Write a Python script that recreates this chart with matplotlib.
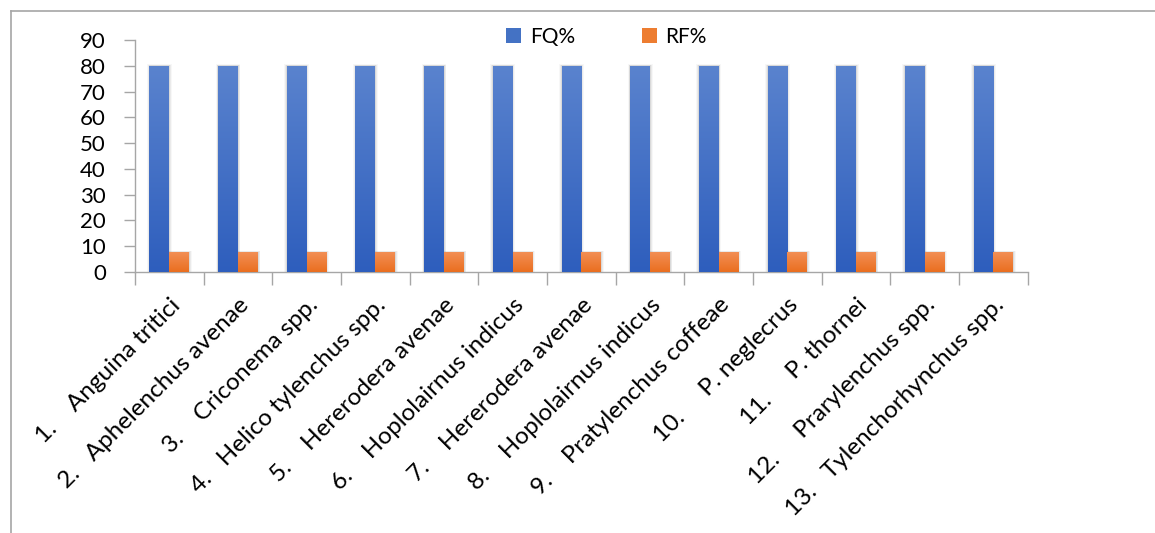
"""Frequency (FQ%) and relative frequency (RF%) of nematode genera."""

import matplotlib.pyplot as plt
import numpy as np
from matplotlib.colors import LinearSegmentedColormap
from matplotlib.lines import Line2D
from matplotlib.patches import Patch, Rectangle

species = [
    "1.    Anguina tritici",
    "2.   Aphelenchus avenae",
    "3.    Criconema spp.",
    "4.   Helico tylenchus spp.",
    "5.    Hererodera avenae",
    "6.    Hoplolairnus indicus",
    "7.    Hererodera avenae",
    "8.    Hoplolairnus indicus",
    "9.    Pratylenchus coffeae",
    "10.     P. neglecrus",
    "11.     P. thornei",
    "12.     Prarylenchus spp.",
    "13.   Tylenchorhynchus spp.",
]
fq = [80, 80, 80, 80, 80, 80, 80, 80, 80, 80, 80, 80, 80]
rf = [7.69, 7.69, 7.69, 7.69, 7.69, 7.69, 7.69, 7.69, 7.69, 7.69, 7.69, 7.69, 7.69]

plt.rcParams["font.family"] = ["Lato", "DejaVu Sans"]

blue_cmap = LinearSegmentedColormap.from_list("fq", ["#2E5EBD", "#5A83CE"])
orange_cmap = LinearSegmentedColormap.from_list("rf", ["#EA6E1F", "#F28F55"])
grad = np.linspace(0, 1, 256).reshape(-1, 1)


def gradient_bars(ax, xs, heights, width, cmap):
    bars = ax.bar(xs, heights, width=width, align="edge", color="none", zorder=3)
    for bar in bars:
        x0, y0 = bar.get_x(), bar.get_y()
        w, h = bar.get_width(), bar.get_height()
        # soft drop shadow around the bar
        for k, a in zip([0.10, 0.065, 0.03], [0.03, 0.05, 0.07]):
            ax.add_patch(Rectangle((x0 - k * 0.35, y0), w + k * 0.7, h + k * 6,
                                   facecolor="black", alpha=a, lw=0, zorder=2))
        im = ax.imshow(grad, cmap=cmap, aspect="auto", origin="lower",
                       extent=(x0, x0 + w, y0, y0 + h), zorder=3)
        im.set_clip_path(bar)
    return bars


fig = plt.figure(figsize=(11.55, 5.33), dpi=100)
ax = fig.add_axes([0.1169, 0.4897, 0.773, 0.4353])

x = np.arange(len(species))
bar_w = 0.29
gradient_bars(ax, x - bar_w, fq, bar_w, blue_cmap)
gradient_bars(ax, x, rf, bar_w, orange_cmap)

ax.set_xlim(-0.5, len(species) - 0.5)
ax.set_ylim(0, 90)
ax.set_yticks(range(0, 91, 10))
ax.tick_params(axis="y", labelsize=16, length=8, width=1, color="#A6A6A6", pad=13)

ax.set_xticks(x)
ax.set_xticklabels(species, rotation=45, ha="right", rotation_mode="anchor", fontsize=17.5)
ax.tick_params(axis="x", length=0, pad=16)
ax.set_xticks(np.arange(-0.5, len(species)), minor=True)
ax.tick_params(axis="x", which="minor", length=9, width=1, color="#A6A6A6")

for side in ["top", "right"]:
    ax.spines[side].set_visible(False)
for side in ["left", "bottom"]:
    ax.spines[side].set_color("#A6A6A6")
    ax.spines[side].set_linewidth(1)

handles = [Patch(facecolor="#4472C4"), Patch(facecolor="#ED7D31")]
fig.legend(handles, ["FQ%", "RF%"], loc="center", bbox_to_anchor=(0.525, 0.931),
           ncol=2, frameon=False, fontsize=15, handlelength=0.75, handleheight=0.75,
           columnspacing=3.2, handletextpad=0.4)

# chart area border (only left and top edges fall inside the image)
fig.add_artist(Line2D([0.0095, 0.0095], [0, 0.979], color="#A6A6A6", lw=1.2))
fig.add_artist(Line2D([0.0095, 1], [0.979, 0.979], color="#A6A6A6", lw=1.2))

fig.savefig("out.png", dpi=100)
